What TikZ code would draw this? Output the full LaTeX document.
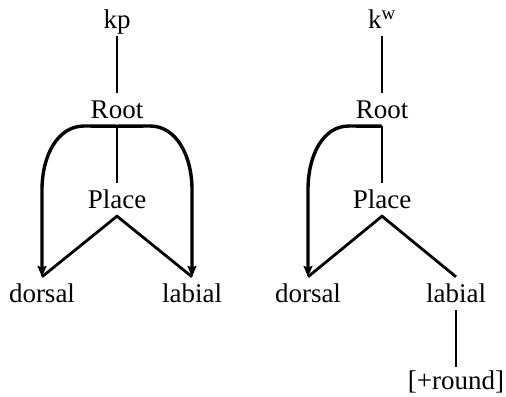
\documentclass[tikz,border=0pt]{standalone}
\usepackage{fontspec}
\setmainfont{Liberation Serif}
\usepackage{tikz}
\usetikzlibrary{arrows.meta}

\begin{document}
\begin{tikzpicture}[x=1bp,y=-1bp,>={Stealth[length=11bp,width=9bp,inset=2bp]},
  feat/.style={inner sep=0pt,anchor=base,text height=25bp,text depth=8bp,
    font=\fontsize{27bp}{32bp}\selectfont},
  link/.style={line width=2.8bp},
  pathlink/.style={->,line width=3.4bp}]
\useasboundingbox (0,0) rectangle (506,396);
% Lewe drzewo: kp z dwoma artykulatorami.
\node[feat] (kpA) at (117,28) {kp};
\node[feat] (rootA) at (117,118) {Root};
\node[feat] (placeA) at (117,208) {Place};
\node[feat] (dorsalA) at (42,302) {dorsal};
\node[feat] (labialA) at (192,302) {labial};
\draw[link] (kpA.south) -- (rootA.north);
\draw[link] (rootA.south) -- (placeA.north);
\draw[link] (dorsalA.north) -- (placeA.south) -- (labialA.north);
% łuki od Root
\draw[pathlink] (rootA.south) -- (84,126)
  .. controls (58,126) and (42,155) .. (42,190) -- (dorsalA.north);
\draw[pathlink] (rootA.south) -- (150,126)
  .. controls (176,126) and (192,155) .. (192,190) -- (labialA.north);
% --- prawe drzewo: k^w ---
\node[feat] (kwB) at (382,28) {k\textsuperscript{w}};
\node[feat] (rootB) at (382,118) {Root};
\node[feat] (placeB) at (382,208) {Place};
\node[feat] (dorsalB) at (308,302) {dorsal};
\node[feat] (labialB) at (456,302) {labial};
\node[feat,text height=22bp] (roundB) at (456,389) {[+round]};
\draw[link] (kwB.south) -- (rootB.north);
\draw[link] (rootB.south) -- (placeB.north);
\draw[link] (dorsalB.north) -- (placeB.south) -- (labialB.north);
\draw[link] (labialB.south) -- (roundB.north);
\draw[pathlink] (rootB.south) -- (349,126)
  .. controls (323,126) and (308,155) .. (308,190) -- (dorsalB.north);
\end{tikzpicture}
\end{document}
